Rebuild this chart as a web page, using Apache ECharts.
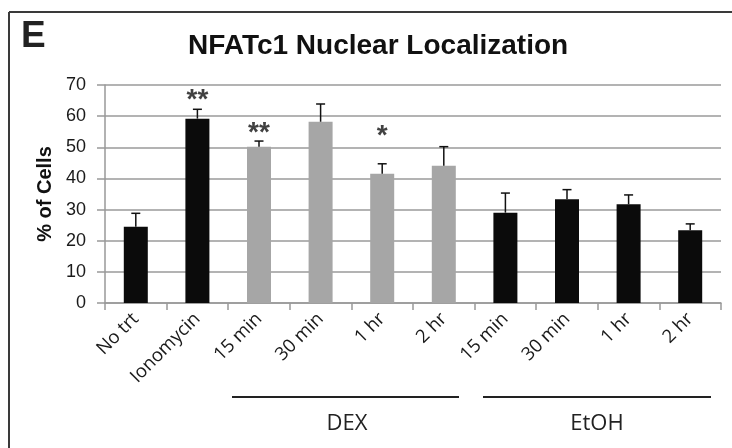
<!DOCTYPE html>
<html>
<head>
<meta charset="utf-8">
<script src="https://cdn.jsdelivr.net/npm/echarts@6/dist/echarts.min.js"></script>
<style>
  html, body { margin: 0; padding: 0; background: #fff; }
  #chart { width: 732px; height: 448px; }
</style>
</head>
<body>
<div id="chart"></div>
<script>
// 类目 / 数值
const categories = ['No trt', 'Ionomycin', '15 min', '30 min', '1 hr', '2 hr', '15 min', '30 min', '1 hr', '2 hr']
const groups = ['ctrl', 'ctrl', 'DEX', 'DEX', 'DEX', 'DEX', 'EtOH', 'EtOH', 'EtOH', 'EtOH']
const meanValues = [24.5, 59.2, 50.2, 58.2, 41.5, 44.1, 29.0, 33.3, 31.7, 23.4]
const errorTops = [28.8, 62.2, 52.0, 63.9, 44.7, 50.2, 35.3, 36.4, 34.7, 25.4]
const significance = ['', '**', '**', '', '*', '', '', '', '', '']
const starLevels = [0, 65.0, 54.6, 0, 53.6, 0, 0, 0, 0, 0]
const yTicks = { min: 0, max: 70, interval: 10 }

const chart = echarts.init(document.getElementById('chart'))

const barData = meanValues.map(function (v, i) {
  return {
    value: v,
    itemStyle: { color: groups[i] === 'DEX' ? '#a6a6a6' : '#0b0b0b' }
  }
})
const errData = meanValues.map(function (v, i) { return [i, v, errorTops[i]] })
const starData = []
significance.forEach(function (s, i) {
  if (s) starData.push([i, starLevels[i], s])
})

const option = {
  animation: false,
  textStyle: { fontFamily: 'Liberation Sans, Arial, sans-serif' },
  title: {
    text: 'NFATc1 Nuclear Localization',
    left: 183,
    top: 27,
    textStyle: { fontSize: 28, fontWeight: 'bold', color: '#111' }
  },
  grid: { left: 105, right: 11, top: 85, bottom: 145 },
  xAxis: {
    type: 'category',
    data: categories,
    axisLine: { lineStyle: { color: '#999', width: 1.5 } },
    axisTick: { show: true, length: 7, lineStyle: { color: '#999', width: 1.5 } },
    axisLabel: {
      rotate: 45,
      margin: 13,
      fontSize: 18.5,
      color: '#1a1a1a',
      fontFamily: 'Open Sans, sans-serif'
    }
  },
  yAxis: {
    type: 'value',
    min: yTicks.min,
    max: yTicks.max,
    interval: yTicks.interval,
    name: '% of Cells',
    nameLocation: 'middle',
    nameGap: 44,
    nameRotate: 90,
    nameTextStyle: { fontSize: 20, fontWeight: 'bold', color: '#111' },
    axisLine: { show: true, lineStyle: { color: '#999', width: 1.5 } },
    axisTick: { show: true, length: 8, lineStyle: { color: '#999', width: 1.5 } },
    axisLabel: { margin: 19, fontSize: 18, color: '#1a1a1a' },
    splitLine: { lineStyle: { color: '#9a9a9a', width: 1.5 } }
  },
  series: [
    {
      type: 'bar',
      barWidth: 24,
      data: barData,
      z: 2
    },
    {
      // 误差线
      type: 'custom',
      data: errData,
      z: 3,
      renderItem: function (params, api) {
        const base = api.coord([api.value(0), api.value(1)])
        const top = api.coord([api.value(0), api.value(2)])
        const half = 4.5
        return {
          type: 'group',
          children: [
            { type: 'line', shape: { x1: top[0], y1: base[1], x2: top[0], y2: top[1] }, style: { stroke: '#111', lineWidth: 1.5 } },
            { type: 'line', shape: { x1: top[0] - half, y1: top[1], x2: top[0] + half, y2: top[1] }, style: { stroke: '#111', lineWidth: 1.5 } }
          ]
        }
      }
    },
    {
      // 显著性星号
      type: 'scatter',
      data: starData,
      symbolSize: 0,
      z: 4,
      label: {
        show: true,
        position: 'inside',
        fontSize: 28,
        fontWeight: 'bold',
        color: '#111',
        formatter: function (p) { return p.data[2] }
      }
    }
  ],
  graphic: [
    // 外框
    { type: 'line', shape: { x1: 9, y1: 12, x2: 732, y2: 12 }, style: { stroke: '#3a3a3a', lineWidth: 2 } },
    { type: 'line', shape: { x1: 9, y1: 12, x2: 9, y2: 448 }, style: { stroke: '#3a3a3a', lineWidth: 2 } },
    { type: 'text', left: 21, top: 18, style: { text: 'E', fontSize: 37, fontWeight: 'bold', fill: '#222', fontFamily: 'Liberation Sans, Arial, sans-serif' } },
    // 分组标注
    { type: 'line', shape: { x1: 232, y1: 397, x2: 459, y2: 397 }, style: { stroke: '#222', lineWidth: 2 } },
    { type: 'line', shape: { x1: 483, y1: 397, x2: 711, y2: 397 }, style: { stroke: '#222', lineWidth: 2 } },
    { type: 'text', x: 347, y: 424, style: { text: 'DEX', fontSize: 22, fill: '#222', align: 'center', verticalAlign: 'middle', fontFamily: 'Open Sans, sans-serif' } },
    { type: 'text', x: 597, y: 424, style: { text: 'EtOH', fontSize: 22, fill: '#222', align: 'center', verticalAlign: 'middle', fontFamily: 'Open Sans, sans-serif' } }
  ]
}

chart.setOption(option)
</script>
</body>
</html>
